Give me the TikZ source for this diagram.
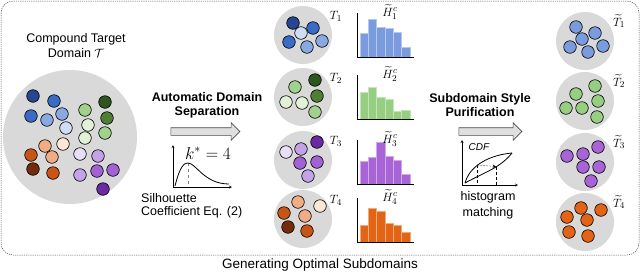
\documentclass[tikz,border=0pt]{standalone}
\usepackage{amsmath,amssymb}
\usepackage[no-math]{fontspec}
\setmainfont{Liberation Sans}
\usepackage{xcolor}
\usetikzlibrary{calc, positioning, shapes.arrows}

\definecolor{bluedark}{RGB}{38,70,145}
\definecolor{bluemid}{RGB}{58,108,198}
\definecolor{bluelight}{RGB}{138,168,225}
\definecolor{bluepale}{RGB}{208,220,243}
\definecolor{greendark}{RGB}{45,85,32}
\definecolor{greenmid}{RGB}{78,128,52}
\definecolor{greenlight}{RGB}{160,210,140}
\definecolor{greenpale}{RGB}{226,241,216}
\definecolor{purpledark}{RGB}{108,42,162}
\definecolor{purplemid}{RGB}{162,98,212}
\definecolor{purplelight}{RGB}{196,162,230}
\definecolor{purplepale}{RGB}{232,222,246}
\definecolor{orangedark}{RGB}{115,45,12}
\definecolor{orangemid}{RGB}{200,85,22}
\definecolor{orangelight}{RGB}{240,172,132}
\definecolor{orangepale}{RGB}{252,230,212}
\definecolor{histblue}{RGB}{122,156,222}
\definecolor{histgreen}{RGB}{150,206,130}
\definecolor{histpurple}{RGB}{168,100,214}
\definecolor{historange}{RGB}{226,100,20}

\begin{document}
\begin{tikzpicture}[x=1pt, y=-1pt, >=stealth,
    every node/.style={font=\fontsize{12.5}{14}\selectfont},
    domaincircle/.style={circle, fill=gray!30, inner sep=0pt},
    dot/.style={draw=black, line width=0.6pt},
    bigarrow/.style={single arrow, draw=gray!60!black, fill=gray!25, line width=0.6pt,
      inner xsep=0pt, inner ysep=3.5pt, minimum width=17pt, single arrow head extend=5pt, minimum height=69pt},
    heading/.style={align=center, font=\fontsize{12.5}{14}\selectfont\bfseries}]
  \useasboundingbox (0,0) rectangle (640,274);
  % outer frame
  \draw[gray!60!black, line width=0.5pt, dash pattern=on 1.2pt off 1pt, rounded corners=12pt] (1,1) rectangle (639,255);
  \node (caption) at (320,265) {\fontsize{13.5}{15}\selectfont Generating Optimal Subdomains};

  % compound target domain
  \node[align=center, font=\fontsize{12.5}{15}\selectfont] (title) at (76,46) {Compound Target\\Domain $\mathcal{T}$};
  \node[domaincircle, minimum size=134pt] (bigdomain) at (70,137) {};
  \foreach \px/\py/\c in {33/96/bluedark, 54/101/bluemid, 31/116/bluemid, 47/120/bluelight, 62/114/bluelight, 66/128/bluepale,
      85/110/greenlight, 105/102/greendark, 107/118/greenmid, 88/125/greenpale, 85/138/greenpale, 105/133/greenlight,
      45/146/orangelight, 63/144/orangepale, 31/155/orangemid, 52/157/orangelight, 33/169/orangedark, 53/173/orangemid,
      80/154/purplepale, 98/156/purplelight, 80/175/purplelight, 97/171/purplemid, 113/170/purplemid, 103/189/purpledark}
    \filldraw[dot, fill=\c] (\px,\py) circle[radius=6.3pt];

  % automatic domain separation
  \node[bigarrow] (sepArrow) at (203.5,131.5) {};
  \node[heading] (sepText) at (207,105) {Automatic Domain\\Separation};
  \draw[->] (173,187) -- (173,145);
  \draw[->] (173,187) -- (232,187);
  \draw[gray, dashed] (188,163) -- (188,187);
  \draw[thick] (175,186) .. controls (180,166) and (184,163) .. (188,163) .. controls (196,163) and (204,184) .. (229,184);
  \node (kstar) at (208,153) {\fontsize{17}{20}\selectfont $k^*=4$};
  \node[align=left, anchor=north west, inner sep=0pt, font=\fontsize{12.5}{13.5}\selectfont] (silh) at (141,193) {Silhouette\\Coefficient Eq. (2)};

  % subdomains
  \foreach \n/\cy in {1/35, 2/97, 3/160, 4/219} {
    \node[domaincircle, minimum size=58pt] (sub\n) at (303,\cy) {};
    \node (t\n) at (336,\cy-19) {$T_{\n}$};
  }
  \foreach \dx/\dy/\c in {-10/-12/bluedark, 10/-7/bluemid, -2/-2/bluepale, -14/7/bluemid, 4/12/bluelight, 19/6/bluelight}
    \filldraw[dot, fill=\c] ($(sub1)+(\dx,\dy)$) circle[radius=6.3pt];
  \foreach \dx/\dy/\c in {12/-17/greendark, -8/-10/greenlight, 14/-1/greenmid, -17/5/greenpale, -1/6/greenpale, 12/15/greenlight}
    \filldraw[dot, fill=\c] ($(sub2)+(\dx,\dy)$) circle[radius=6.3pt];
  \foreach \dx/\dy/\c in {-17/-8/purplepale, -2/-11/purplelight, 14/-18/purpledark, -3/3/purplemid, 14/2/purplemid, 5/16/purplelight}
    \filldraw[dot, fill=\c] ($(sub3)+(\dx,\dy)$) circle[radius=6.3pt];
  \foreach \dx/\dy/\c in {-5/-17/orangelight, 17/-13/orangepale, -19/-6/orangemid, 2/-3/orangelight, -15/8/orangedark, 4/12/orangemid}
    \filldraw[dot, fill=\c] ($(sub4)+(\dx,\dy)$) circle[radius=6.3pt];

  % histograms
  \foreach \base/\col/\hs/\n in {57/histblue/{24,38,30,29,25,10}/1, 119/histgreen/{27,32,22,20,8,9}/2,
      184/histpurple/{23,27,42,28,24,10}/3, 242/historange/{17,34,31,19,17,10}/4} {
    \foreach \h [count=\i] in \hs
      \filldraw[fill=\col, draw=\col!55!white, line width=0.4pt] (351.7+8.33*\i,\base) rectangle ++(8.33,-\h);
    \draw[line width=0.6pt] (357,\base-44) -- (357,\base) -- (414,\base);
    \node (h\n) at (390,\base-45) {$\widetilde{H}^c_{\n}$};
  }

  % subdomain style purification
  \node[bigarrow, minimum height=63pt] (purArrow) at (488.5,131.5) {};
  \node[heading] (purText) at (480,105) {Subdomain Style\\Purification};
  \draw[->] (462,185) -- (462,140);
  \draw[->] (462,185) -- (518,185);
  \node[font=\fontsize{10}{12}\selectfont\itshape] (cdf) at (479,147) {CDF};
  \coordinate (src) at (477,165);
  \coordinate (ref) at (496,166.5);
  \draw[thick] (465,183) .. controls (470,165) and (490,155) .. (512,153);
  \draw[thick] (465,183) .. controls (485,172) and (500,168) .. (512,153);
  \draw[densely dashed, line width=0.5pt] (src) -- (src |- 0,185);
  \draw[densely dashed, line width=0.5pt] (ref) -- (ref |- 0,185);
  \draw[densely dotted, ->, line width=0.5pt] (src) -- (ref);
  \node[align=center, font=\fontsize{12.5}{16}\selectfont] (hm) at (488,205) {histogram\\matching};

  % purified subdomains
  \foreach \n/\cy in {1/41, 2/101, 3/162, 4/222} {
    \node[domaincircle, minimum size=58pt] (pure\n) at (585,\cy) {};
    \node (tt\n) at (619,\cy-20) {$\widetilde{T}_{\n}$};
  }
  \foreach \dx/\dy in {-9/-14, 10/-8, -3/-2, -15/6, 18/5, 3/11}
    \filldraw[dot, fill=histblue] ($(pure1)+(\dx,\dy)$) circle[radius=6.3pt];
  \foreach \dx/\dy in {10/-15, -9/-7, 13/0, -19/7, -3/7, 12/16}
    \filldraw[dot, fill=histgreen] ($(pure2)+(\dx,\dy)$) circle[radius=6.3pt];
  \foreach \dx/\dy in {13/-15, -2/-8, -18/-6, -2/5, 14/5, 6/19}
    \filldraw[dot, fill=histpurple] ($(pure3)+(\dx,\dy)$) circle[radius=6.3pt];
  \foreach \dx/\dy in {-4/-14, 16/-12, -18/-5, 2/-2, -16/10, 3/14}
    \filldraw[dot, fill=historange] ($(pure4)+(\dx,\dy)$) circle[radius=6.3pt];
\end{tikzpicture}
\end{document}
